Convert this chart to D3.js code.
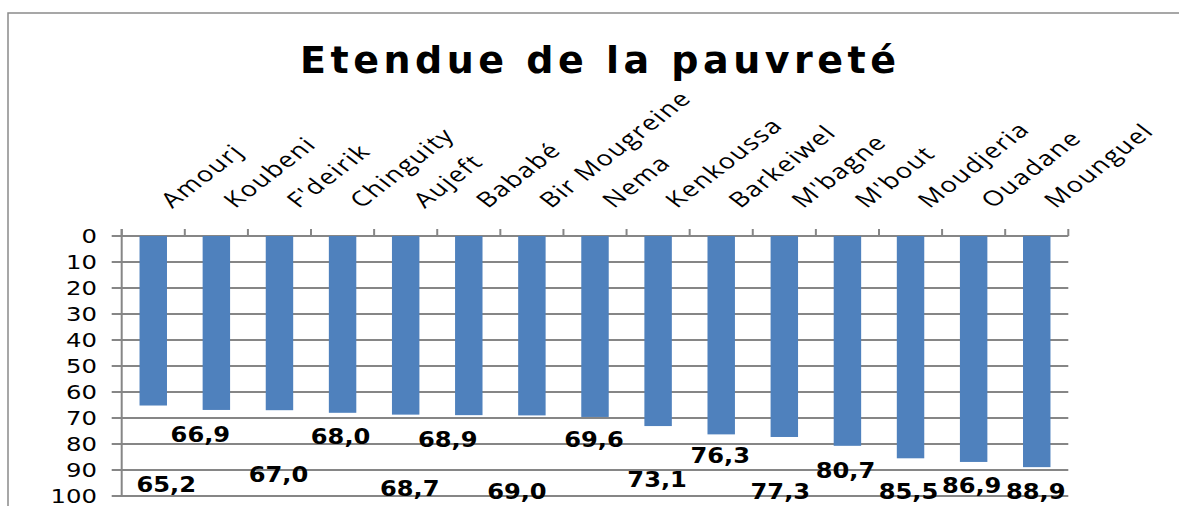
<!DOCTYPE html>
<head>
  <meta charset="utf-8">
  <title>Etendue de la pauvreté</title>
  <script src="https://d3js.org/d3.v7.min.js"></script>
</head>
<style>
body {
    margin: 0;
    background: #fff;
}
text {
    pointer-events: none;
}
</style>
<body>
<svg></svg>
<script>
    // data
    var communes = ["Amourj", "Koubeni", "F'deirik", "Chinguity", "Aujeft", "Bababé", "Bir Mougreine",
                    "Nema", "Kenkoussa", "Barkeiwel", "M'bagne", "M'bout", "Moudjeria", "Ouadane", "Mounguel"];
    var pauvrete = [65.2, 66.9, 67.0, 68.0, 68.7, 68.9, 69.0, 69.6, 73.1, 76.3, 77.3, 80.7, 85.5, 86.9, 88.9];
    var yTicks = [0, 10, 20, 30, 40, 50, 60, 70, 80, 90, 100];

    // where each value label sits (value level of its baseline, shift in px from the bar centre)
    var labelLevel = [98.3, 79.3, 94.5, 80.1, 100, 81.3, 101.3, 81.0, 96.4, 87.4, 101.3, 93.2, 101.3, 99.0, 101.3];
    var labelShift = [13, -16, -1, -2, 4, -21, -15, -1, -1, -1, -4, -2, -2, -2, -1];

    var width = 1179;
    var height = 506;
    var plotLeft = 121.7, plotRight = 1068.3;
    var grey = "#868686";

    var svg = d3.select('svg')
        .attr('width', width)
        .attr('height', height)
        .style('display', 'block');

    // chart frame, it runs off the right and bottom of the picture
    svg.append('rect')
        .attr('x', 8).attr('y', 13)
        .attr('width', width + 20).attr('height', height + 20)
        .attr('fill', 'none')
        .attr('stroke', '#8a8a8a')
        .attr('stroke-width', 1.5);

    // title
    svg.append('text')
        .attr('x', 300).attr('y', 73)
        .attr('textLength', 596)
        .attr('lengthAdjust', 'spacing')
        .style('font-family', '"DejaVu Sans", sans-serif')
        .style('font-weight', 'bold')
        .style('font-size', '38px')
        .text('Etendue de la pauvreté');

    // scales: the value axis runs downwards from 0
    var x = d3.scaleBand()
        .domain(communes)
        .range([plotLeft, plotRight])
        .paddingInner(0.565)
        .paddingOuter(0.2825);

    var y = d3.scaleLinear()
        .domain([0, 100])
        .range([236, 496]);

    var step = x.step();
    function centre(name) { return x(name) + x.bandwidth() / 2; }

    // horizontal gridlines, they also make the little ticks left of the axis
    svg.append('g').selectAll('line')
        .data(yTicks)
        .enter().append('line')
        .attr('x1', plotLeft - 10).attr('x2', plotRight)
        .attr('y1', function (d) { return y(d); })
        .attr('y2', function (d) { return y(d); })
        .attr('stroke', grey)
        .attr('stroke-width', 2);

    // y tick labels (stretched a bit like the picture)
    svg.append('g').selectAll('text')
        .data(yTicks)
        .enter().append('text')
        .attr('transform', function (d) { return 'translate(97,' + y(d) + ') scale(1.28,1)'; })
        .attr('text-anchor', 'end')
        .attr('dy', '0.36em')
        .style('font-family', '"DejaVu Sans", sans-serif')
        .style('font-size', '19px')
        .attr('fill', '#000')
        .text(function (d) { return d; });

    // bars
    svg.append('g').selectAll('rect')
        .data(pauvrete)
        .enter().append('rect')
        .attr('x', function (d, i) { return x(communes[i]); })
        .attr('width', x.bandwidth())
        .attr('y', y(0))
        .attr('height', function (d) { return y(d) - y(0); })
        .attr('fill', '#4F81BD');

    // y axis line and the category ticks above the 0 line
    svg.append('line')
        .attr('x1', plotLeft).attr('x2', plotLeft)
        .attr('y1', y(0) - 7).attr('y2', y(100))
        .attr('stroke', grey).attr('stroke-width', 2);

    var bounds = communes.map(function (c) { return x(c) - x.paddingOuter() * step; });
    bounds.push(plotRight);
    svg.append('g').selectAll('line')
        .data(bounds)
        .enter().append('line')
        .attr('x1', function (d) { return d; })
        .attr('x2', function (d) { return d; })
        .attr('y1', y(0) - 7).attr('y2', y(0))
        .attr('stroke', grey).attr('stroke-width', 2);

    // category labels, slanted
    svg.append('g').selectAll('text')
        .data(communes)
        .enter().append('text')
        .attr('transform', function (d) {
            return 'translate(' + (centre(d) + 19) + ',209) scale(1.3,1) rotate(-45)';
        })
        .style('font-family', '"Open Sans", sans-serif')
        .style('font-size', '21px')
        .style('letter-spacing', '1.2px')
        .attr('fill', '#000')
        .text(function (d) { return d; });

    // value labels
    svg.append('g').selectAll('text')
        .data(pauvrete)
        .enter().append('text')
        .attr('transform', function (d, i) {
            return 'translate(' + (centre(communes[i]) + labelShift[i]) + ',' + y(labelLevel[i]) + ') scale(1.15,1)';
        })
        .attr('text-anchor', 'middle')
        .style('font-family', '"DejaVu Sans", sans-serif')
        .style('font-weight', 'bold')
        .style('font-size', '21px')
        .attr('fill', '#000')
        .text(function (d) { return d.toFixed(1).replace('.', ','); });
</script>
</body>
